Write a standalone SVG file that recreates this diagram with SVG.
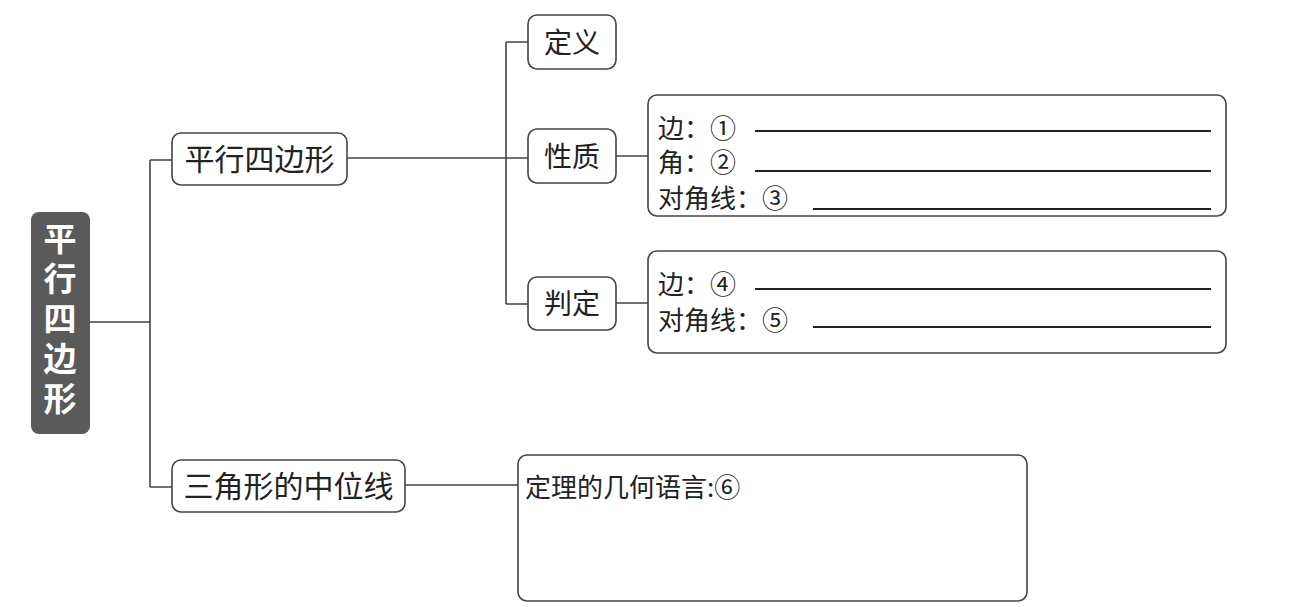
<svg xmlns="http://www.w3.org/2000/svg" width="1297" height="607" viewBox="0 0 1297 607">
<style>
.box{fill:#fff;stroke:#444;stroke-width:1.6}
.t{font-family:"Noto Sans CJK SC","Noto Sans",sans-serif;fill:#222}
.c{stroke:#444;stroke-width:1.6;fill:none}
.u{stroke:#222;stroke-width:2.2}
</style>
<rect width="1297" height="607" fill="#fff"/>
<g id="connectors">
<path class="c" d="M90,322 H150 M150,160 V487 M150,160 H172 M150,487 H172"/>
<path class="c" d="M347,158 H528 M506,42 V304 M506,42 H528 M506,304 H528"/>
<path class="c" d="M616,156 H648 M616,303 H648 M405,485 H518"/>
</g>
<g id="root">
<rect x="31" y="212" width="59" height="222" rx="8" fill="#5a5a5a"/>
<text x="60" y="222" writing-mode="vertical-rl" font-family="Noto Sans CJK SC, sans-serif" font-size="33" letter-spacing="7" font-weight="bold" fill="#fff">平行四边形</text>
</g>
<g id="n-pxsbx">
<rect class="box" x="172" y="133" width="175" height="52" rx="9"/>
<text class="t" x="259.5" y="170" font-size="30" text-anchor="middle">平行四边形</text>
</g>
<g id="n-dingyi">
<rect class="box" x="528" y="15" width="88" height="54" rx="9"/>
<text class="t" x="572" y="53" font-size="28" text-anchor="middle">定义</text>
</g>
<g id="n-xingzhi">
<rect class="box" x="528" y="129" width="88" height="54" rx="9"/>
<text class="t" x="572" y="167" font-size="28" text-anchor="middle">性质</text>
</g>
<g id="n-panding">
<rect class="box" x="528" y="277" width="88" height="53" rx="9"/>
<text class="t" x="572" y="314" font-size="28" text-anchor="middle">判定</text>
</g>
<g id="n-xingzhi-detail">
<rect class="box" x="648" y="95" width="578" height="121" rx="9"/>
<text class="t" font-size="26"><tspan x="658" y="138">边：①</tspan><tspan x="658" y="172">角：②</tspan><tspan x="658" y="208">对角线：③</tspan></text>
<line class="u" x1="755" y1="131" x2="1211" y2="131"/>
<line class="u" x1="755" y1="171" x2="1211" y2="171"/>
<line class="u" x1="813" y1="209" x2="1211" y2="209"/>
</g>
<g id="n-panding-detail">
<rect class="box" x="648" y="251" width="578" height="102" rx="9"/>
<text class="t" font-size="26"><tspan x="658" y="294">边：④</tspan><tspan x="658" y="330">对角线：⑤</tspan></text>
<line class="u" x1="755" y1="289" x2="1211" y2="289"/>
<line class="u" x1="813" y1="327" x2="1211" y2="327"/>
</g>
<g id="n-zhongweixian">
<rect class="box" x="172" y="460" width="233" height="52" rx="9"/>
<text class="t" x="288.5" y="497" font-size="30" text-anchor="middle">三角形的中位线</text>
</g>
<g id="n-dingli">
<rect class="box" x="518" y="455" width="509" height="146" rx="9"/>
<text class="t" x="525" y="497" font-size="26">定理的几何语言:⑥</text>
</g>
</svg>
